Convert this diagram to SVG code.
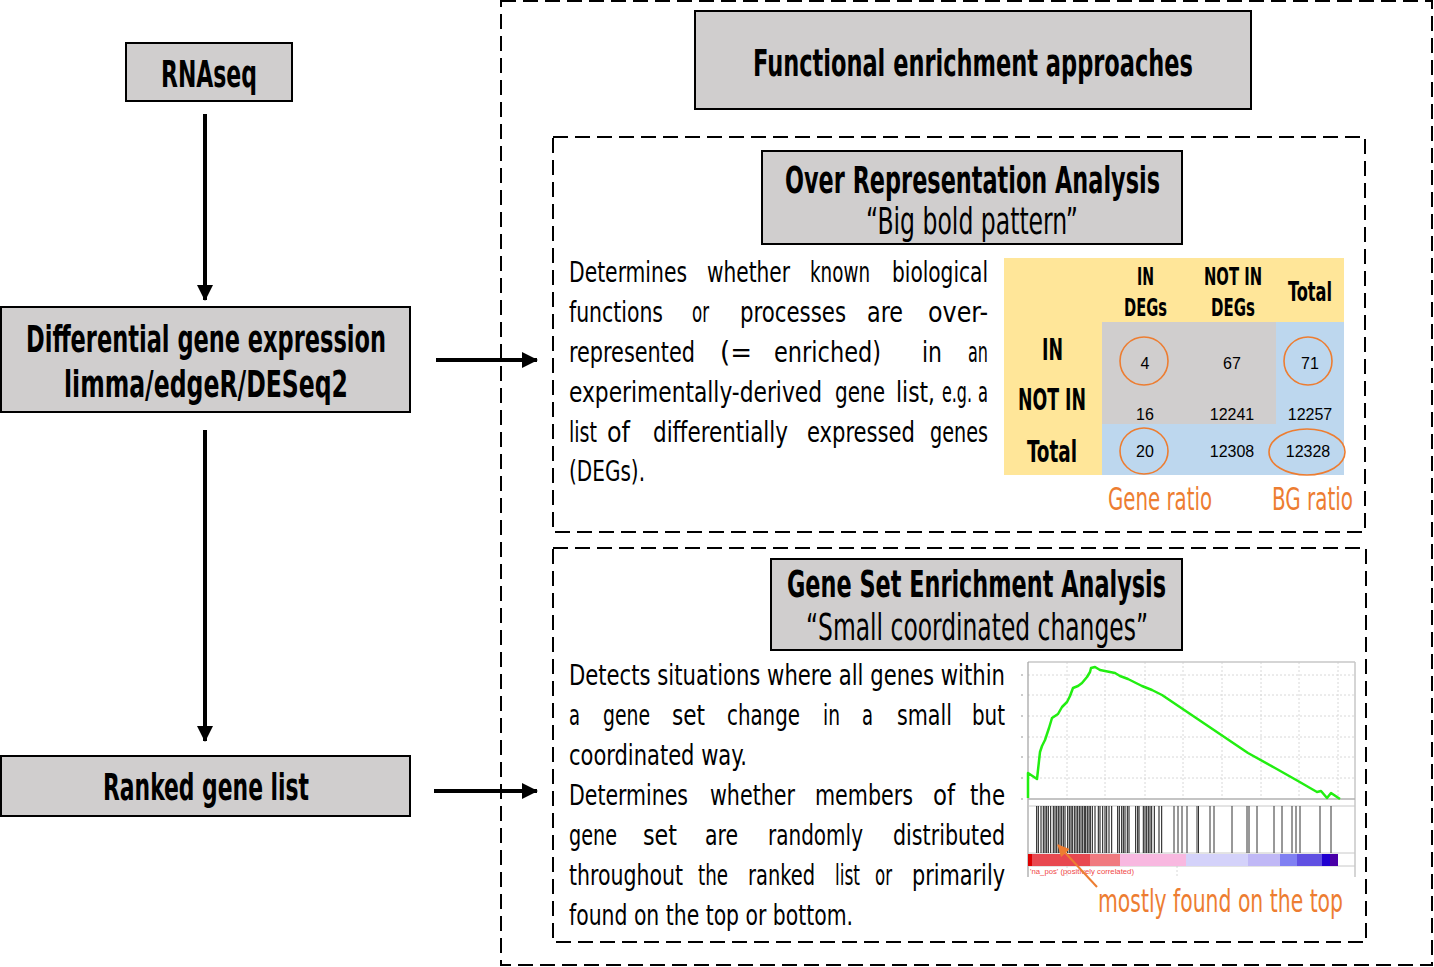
<svg xmlns="http://www.w3.org/2000/svg" width="1434" height="967" viewBox="0 0 1434 967">
<defs>
<style>
.box{fill:#d0cece;stroke:#000;stroke-width:2}
.dash{fill:none;stroke:#000;stroke-width:2;stroke-dasharray:15 7}
.t{font-family:"Liberation Sans Narrow","DejaVu Sans Condensed","Liberation Sans",sans-serif}
.h{font-weight:bold;font-size:38px;fill:#000}
.s{font-size:38px;fill:#000}
.b{font-size:28px;fill:#000}
.th{font-weight:bold;font-size:24px;fill:#000}
.rl{font-weight:bold;font-size:31px;fill:#000}
.num{font-family:"Liberation Sans",Arial,sans-serif;font-size:16px;fill:#000;text-anchor:middle}
.o{fill:#ed7d31;font-size:32px}
.circ{fill:none;stroke:#ed7d31;stroke-width:1.6}
.conn{stroke:#000;stroke-width:4;fill:none}
.grid{stroke:#d8d8d8;stroke-width:1;stroke-dasharray:2 2}
</style>
<marker id="ah" markerUnits="userSpaceOnUse" markerWidth="16" markerHeight="16" viewBox="0 0 16 16" refX="15" refY="8" orient="auto">
<path d="M0,0 L16,8 L0,16 Z" fill="#000"/>
</marker>
<marker id="oh" markerUnits="userSpaceOnUse" markerWidth="12" markerHeight="12" viewBox="0 0 12 12" refX="11" refY="6" orient="auto">
<path d="M0,0 L12,6 L0,12 Z" fill="#ed7d31"/>
</marker>
</defs>
<rect width="1434" height="967" fill="#fff"/>

<g id="enrichment-frame"><rect class="dash" x="501" y="1" width="931" height="964"/></g>

<g id="connectors">
<line class="conn" x1="205" y1="114" x2="205" y2="300" marker-end="url(#ah)"/>
<line class="conn" x1="205" y1="430" x2="205" y2="741" marker-end="url(#ah)"/>
<line class="conn" x1="436" y1="360" x2="537" y2="360" marker-end="url(#ah)"/>
<line class="conn" x1="434" y1="791" x2="537" y2="791" marker-end="url(#ah)"/>
</g>

<g id="rnaseq">
<rect class="box" x="126" y="43" width="166" height="58"/>
<text class="t h" x="161" y="87" textLength="96" lengthAdjust="spacingAndGlyphs">RNAseq</text>
</g>

<g id="dge">
<rect class="box" x="1" y="307" width="409" height="105"/>
<text class="t h" x="26" y="352" textLength="360" lengthAdjust="spacingAndGlyphs">Differential gene expression</text>
<text class="t h" x="64" y="397" textLength="284" lengthAdjust="spacingAndGlyphs">limma/edgeR/DESeq2</text>
</g>

<g id="ranked">
<rect class="box" x="1" y="756" width="409" height="60"/>
<text class="t h" x="103" y="800" textLength="206" lengthAdjust="spacingAndGlyphs">Ranked gene list</text>
</g>

<g id="title">
<rect class="box" x="695" y="11" width="556" height="98"/>
<text class="t h" x="753" y="76" textLength="440" lengthAdjust="spacingAndGlyphs">Functional enrichment approaches</text>
</g>

<g id="ora-panel">
<rect class="dash" x="553" y="137" width="812" height="395"/>
</g>
<g id="ora-title">
<rect class="box" x="762" y="151" width="420" height="93"/>
<text class="t h" x="785" y="193" textLength="375" lengthAdjust="spacingAndGlyphs">Over Representation Analysis</text>
<text class="t s" x="866" y="234" textLength="212" lengthAdjust="spacingAndGlyphs">“Big bold pattern”</text>
</g>
<g id="ora-text" class="t b">
<text x="569" y="282" textLength="118" lengthAdjust="spacingAndGlyphs">Determines</text>
<text x="707" y="282" textLength="83" lengthAdjust="spacingAndGlyphs">whether</text>
<text x="810" y="282" textLength="60" lengthAdjust="spacingAndGlyphs">known</text>
<text x="892" y="282" textLength="96" lengthAdjust="spacingAndGlyphs">biological</text>
<text x="569" y="322" textLength="94" lengthAdjust="spacingAndGlyphs">functions</text>
<text x="692" y="322" textLength="17" lengthAdjust="spacingAndGlyphs">or</text>
<text x="740" y="322" textLength="106" lengthAdjust="spacingAndGlyphs">processes</text>
<text x="867" y="322" textLength="36" lengthAdjust="spacingAndGlyphs">are</text>
<text x="928" y="322" textLength="60" lengthAdjust="spacingAndGlyphs">over-</text>
<text x="569" y="362" textLength="126" lengthAdjust="spacingAndGlyphs">represented</text>
<text x="720" y="362" textLength="32" lengthAdjust="spacingAndGlyphs">(=</text>
<text x="774" y="362" textLength="107" lengthAdjust="spacingAndGlyphs">enriched)</text>
<text x="922" y="362" textLength="20" lengthAdjust="spacingAndGlyphs">in</text>
<text x="968" y="362" textLength="20" lengthAdjust="spacingAndGlyphs">an</text>
<text x="569" y="402" textLength="253" lengthAdjust="spacingAndGlyphs">experimentally-derived</text>
<text x="835" y="402" textLength="50" lengthAdjust="spacingAndGlyphs">gene</text>
<text x="896" y="402" textLength="39" lengthAdjust="spacingAndGlyphs">list,</text>
<text x="942" y="402" textLength="30" lengthAdjust="spacingAndGlyphs">e.g.</text>
<text x="978" y="402" textLength="10" lengthAdjust="spacingAndGlyphs">a</text>
<text x="569" y="442" textLength="28" lengthAdjust="spacingAndGlyphs">list</text>
<text x="607" y="442" textLength="23" lengthAdjust="spacingAndGlyphs">of</text>
<text x="653" y="442" textLength="135" lengthAdjust="spacingAndGlyphs">differentially</text>
<text x="807" y="442" textLength="108" lengthAdjust="spacingAndGlyphs">expressed</text>
<text x="930" y="442" textLength="58" lengthAdjust="spacingAndGlyphs">genes</text>
<text x="569" y="481" textLength="76" lengthAdjust="spacingAndGlyphs">(DEGs).</text>
</g>

<g id="ora-table">
<rect x="1004" y="258" width="340" height="217" fill="#ffe699"/>
<rect x="1102" y="322" width="174" height="102" fill="#d0cece"/>
<rect x="1276" y="322" width="68" height="153" fill="#bdd7ee"/>
<rect x="1102" y="424" width="174" height="51" fill="#bdd7ee"/>
<g class="t">
<text class="th" x="1137" y="285" textLength="17" lengthAdjust="spacingAndGlyphs">IN</text>
<text class="th" x="1124" y="316" textLength="43" lengthAdjust="spacingAndGlyphs">DEGs</text>
<text class="th" x="1204" y="285" textLength="58" lengthAdjust="spacingAndGlyphs">NOT IN</text>
<text class="th" x="1211" y="316" textLength="44" lengthAdjust="spacingAndGlyphs">DEGs</text>
<text class="th" x="1288" y="301" textLength="44" lengthAdjust="spacingAndGlyphs" style="font-size:27px">Total</text>
<text class="rl" x="1042" y="360" textLength="21" lengthAdjust="spacingAndGlyphs">IN</text>
<text class="rl" x="1018" y="410" textLength="68" lengthAdjust="spacingAndGlyphs">NOT IN</text>
<text class="rl" x="1027" y="462" textLength="50" lengthAdjust="spacingAndGlyphs">Total</text>
</g>
<text class="num" x="1145" y="369">4</text>
<text class="num" x="1232" y="369">67</text>
<text class="num" x="1310" y="369">71</text>
<text class="num" x="1145" y="420">16</text>
<text class="num" x="1232" y="420">12241</text>
<text class="num" x="1310" y="420">12257</text>
<text class="num" x="1145" y="457">20</text>
<text class="num" x="1232" y="457">12308</text>
<text class="num" x="1308" y="457">12328</text>
<ellipse class="circ" cx="1144" cy="361" rx="24" ry="24"/>
<ellipse class="circ" cx="1308" cy="361" rx="24" ry="24"/>
<ellipse class="circ" cx="1144" cy="451" rx="24" ry="23"/>
<ellipse class="circ" cx="1307" cy="452" rx="38" ry="23"/>
<text class="t o" x="1108" y="510" textLength="104" lengthAdjust="spacingAndGlyphs">Gene ratio</text>
<text class="t o" x="1272" y="510" textLength="81" lengthAdjust="spacingAndGlyphs">BG ratio</text>
</g>

<g id="gsea-panel">
<rect class="dash" x="553" y="548" width="813" height="394"/>
</g>
<g id="gsea-title">
<rect class="box" x="771" y="559" width="411" height="91"/>
<text class="t h" x="787" y="597" textLength="379" lengthAdjust="spacingAndGlyphs">Gene Set Enrichment Analysis</text>
<text class="t s" x="806" y="640" textLength="342" lengthAdjust="spacingAndGlyphs">“Small coordinated changes”</text>
</g>
<g id="gsea-text" class="t b">
<text x="569" y="685" textLength="436" lengthAdjust="spacingAndGlyphs">Detects situations where all genes within</text>
<text x="569" y="725" textLength="11" lengthAdjust="spacingAndGlyphs">a</text>
<text x="603" y="725" textLength="47" lengthAdjust="spacingAndGlyphs">gene</text>
<text x="672" y="725" textLength="33" lengthAdjust="spacingAndGlyphs">set</text>
<text x="727" y="725" textLength="73" lengthAdjust="spacingAndGlyphs">change</text>
<text x="823" y="725" textLength="17" lengthAdjust="spacingAndGlyphs">in</text>
<text x="862" y="725" textLength="11" lengthAdjust="spacingAndGlyphs">a</text>
<text x="897" y="725" textLength="55" lengthAdjust="spacingAndGlyphs">small</text>
<text x="972" y="725" textLength="33" lengthAdjust="spacingAndGlyphs">but</text>
<text x="569" y="765" textLength="178" lengthAdjust="spacingAndGlyphs">coordinated way.</text>
<text x="569" y="805" textLength="119" lengthAdjust="spacingAndGlyphs">Determines</text>
<text x="710" y="805" textLength="85" lengthAdjust="spacingAndGlyphs">whether</text>
<text x="815" y="805" textLength="98" lengthAdjust="spacingAndGlyphs">members</text>
<text x="933" y="805" textLength="22" lengthAdjust="spacingAndGlyphs">of</text>
<text x="970" y="805" textLength="35" lengthAdjust="spacingAndGlyphs">the</text>
<text x="569" y="845" textLength="48" lengthAdjust="spacingAndGlyphs">gene</text>
<text x="643" y="845" textLength="34" lengthAdjust="spacingAndGlyphs">set</text>
<text x="705" y="845" textLength="33" lengthAdjust="spacingAndGlyphs">are</text>
<text x="768" y="845" textLength="95" lengthAdjust="spacingAndGlyphs">randomly</text>
<text x="893" y="845" textLength="112" lengthAdjust="spacingAndGlyphs">distributed</text>
<text x="569" y="885" textLength="114" lengthAdjust="spacingAndGlyphs">throughout</text>
<text x="698" y="885" textLength="30" lengthAdjust="spacingAndGlyphs">the</text>
<text x="748" y="885" textLength="67" lengthAdjust="spacingAndGlyphs">ranked</text>
<text x="835" y="885" textLength="25" lengthAdjust="spacingAndGlyphs">list</text>
<text x="875" y="885" textLength="17" lengthAdjust="spacingAndGlyphs">or</text>
<text x="912" y="885" textLength="93" lengthAdjust="spacingAndGlyphs">primarily</text>
<text x="569" y="925" textLength="284" lengthAdjust="spacingAndGlyphs">found on the top or bottom.</text>
</g>

<g id="gsea-plot">
<g class="grid">
<path d="M1067,662V799M1105,662V799M1145,662V799M1183,662V799M1222,662V799M1261,662V799M1299,662V799M1338,662V799"/>
<path d="M1028,675H1355M1028,695H1355M1028,716H1355M1028,737H1355M1028,757H1355M1028,778H1355"/>
<path d="M1067,866V877M1177,866V877"/>
</g>
<path d="M1028,662H1355M1355,662V877" stroke="#c8c8c8" stroke-width="1.5" fill="none"/>
<path d="M1028,662V877" stroke="#a0a0a0" stroke-width="1.2" fill="none"/>
<path d="M1021,675h2M1021,695h2M1021,716h2M1021,737h2M1021,757h2M1021,778h2M1021,799h2" stroke="#999" stroke-width="1"/>
<path d="M1028,799H1355" stroke="#b0b0b0" stroke-width="1.5"/>
<path d="M1028,806H1355M1028,853H1355M1028,866H1355" stroke="#c8c8c8" stroke-width="1"/>
<path d="M1036.7,806V853M1038.3,806V853M1041,806V853M1043.3,806V853M1045,806V853M1046.7,806V853M1048.3,806V853M1050.7,806V853M1053.3,806V853M1055,806V853M1056.7,806V853M1058.3,806V853M1060,806V853M1061.7,806V853M1063.3,806V853M1065,806V853M1067.7,806V853M1069.3,806V853M1071,806V853M1072.3,806V853M1074.3,806V853M1076,806V853M1077.7,806V853M1079.3,806V853M1081,806V853M1082.7,806V853M1084.3,806V853M1085.7,806V853M1087.3,806V853M1089,806V853M1090.3,806V853M1092.3,806V853M1095,806V853M1098.3,806V853M1100,806V853M1102.7,806V853M1105,806V853M1106.7,806V853M1109,806V853M1111.7,806V853M1117.7,806V853M1119.3,806V853M1121.7,806V853M1123.3,806V853M1125,806V853M1127.3,806V853M1129,806V853M1135.7,806V853M1137.7,806V853M1139,806V853M1143.3,806V853M1145,806V853M1146.7,806V853M1148.3,806V853M1150,806V853M1151.7,806V853M1154.3,806V853M1159,806V853M1161.7,806V853" stroke="#111" stroke-width="1"/>
<path d="M1174,806V853M1178,806V853M1182,806V853M1187,806V853M1197,806V853M1198.5,806V853M1210,806V853M1214,806V853M1232,806V853M1247,806V853M1249,806V853M1257,806V853M1274,806V853M1282,806V853M1292,806V853M1296,806V853M1300,806V853M1320,806V853M1331,806V853" stroke="#333" stroke-width="1"/>
<rect x="1028" y="854" width="4" height="12" fill="#dd0000"/>
<rect x="1032" y="854" width="58" height="12" fill="#e84850"/>
<rect x="1090" y="854" width="30" height="12" fill="#f07a80"/>
<rect x="1120" y="854" width="66" height="12" fill="#f8b8e0"/>
<rect x="1186" y="854" width="62" height="12" fill="#d4d2fa"/>
<rect x="1248" y="854" width="32" height="12" fill="#c0b8f6"/>
<rect x="1280" y="854" width="17" height="12" fill="#8080f2"/>
<rect x="1297" y="854" width="25" height="12" fill="#6050e2"/>
<rect x="1322" y="854" width="8" height="12" fill="#2000d0"/>
<rect x="1330" y="854" width="8" height="12" fill="#4a00a8"/>
<path d="M1028,798 L1028,773 L1037,779 L1040,752 L1042,746 L1045,740 L1049,728 L1052,718 L1058,714 L1062,707 L1067,702 L1070,696 L1073,688 L1078,686 L1082,683 L1087,677 L1090,672 L1091,668 L1095,667 L1100,670 L1110,672 L1115,673 L1120,676 L1128,679 L1142,686 L1152,690 L1162,695 L1205,724 L1248,753 L1275,768 L1298,781 L1317,792 L1321,791 L1327,798 L1331,793 L1340,799" stroke="#22ee11" stroke-width="2.5" fill="none" stroke-linejoin="round"/>
<text x="1030" y="874" textLength="104" lengthAdjust="spacingAndGlyphs" style="font-family:'Liberation Sans',Arial,sans-serif;font-size:7px;fill:#f04848">'na_pos' (positively correlated)</text>
<line x1="1097" y1="887" x2="1058" y2="845" stroke="#ed7d31" stroke-width="2" marker-end="url(#oh)"/>
<text class="t o" x="1098" y="912" textLength="245" lengthAdjust="spacingAndGlyphs">mostly found on the top</text>
</g>
</svg>
